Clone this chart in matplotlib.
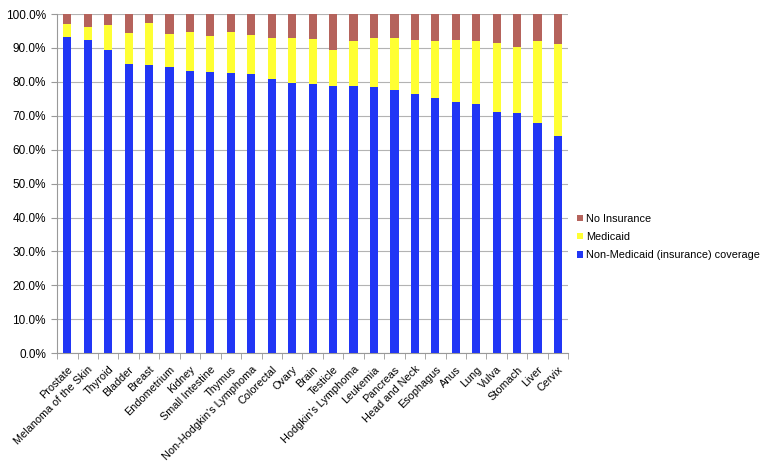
import numpy as np
import matplotlib.pyplot as plt
from matplotlib.ticker import FuncFormatter

plt.rcParams['font.family'] = ['Liberation Sans', 'DejaVu Sans']

cancers = ["Prostate", "Melanoma of the Skin", "Thyroid", "Bladder", "Breast",
           "Endometrium", "Kidney", "Small Intestine", "Thymus",
           "Non-Hodgkin's Lymphoma", "Colorectal", "Ovary", "Brain", "Testicle",
           "Hodgkin's Lymphoma", "Leukemia", "Pancreas", "Head and Neck",
           "Esophagus", "Anus", "Lung", "Vulva", "Stomach", "Liver", "Cervix"]

# percent of patients
non_medicaid = [93.3, 92.4, 89.5, 85.3, 85.0, 84.3, 83.3, 82.9, 82.6, 82.3, 80.8,
                79.7, 79.4, 78.9, 78.8, 78.5, 77.7, 76.3, 75.3, 74.2, 73.5, 71.2,
                70.8, 67.9, 64.0]
medicaid_top = [97.2, 96.3, 96.9, 94.4, 97.4, 94.2, 94.8, 93.5, 94.7, 93.7, 92.9,
                92.8, 92.6, 89.4, 92.2, 93.0, 92.9, 92.3, 92.2, 92.4, 92.1, 91.4,
                90.3, 92.1, 91.2]

non_medicaid = np.array(non_medicaid)
medicaid = np.array(medicaid_top) - non_medicaid
no_insurance = 100 - np.array(medicaid_top)

blue = '#2136f5'
yellow = '#ffff33'
brown = '#b5635c'

fig = plt.figure(figsize=(7.71, 4.69), dpi=100)
ax = fig.add_axes([0.074, 0.247, 0.663, 0.723])

x = np.arange(len(cancers))
w = 0.4
b1 = ax.bar(x, non_medicaid, w, color=blue, label='Non-Medicaid (insurance) coverage', zorder=3)
b2 = ax.bar(x, medicaid, w, bottom=non_medicaid, color=yellow, label='Medicaid', zorder=3)
b3 = ax.bar(x, no_insurance, w, bottom=non_medicaid + medicaid, color=brown,
            label='No Insurance', zorder=3)

ax.set_xlim(-0.5, len(cancers) - 0.5)
ax.set_ylim(0, 100)
ax.set_yticks(np.arange(0, 101, 10))
ax.yaxis.set_major_formatter(FuncFormatter(lambda v, p: f'{v:.1f}%'))
ax.yaxis.grid(True, color='#b3b3b3', linewidth=0.8, zorder=0)

ax.set_xticks(x)
ax.set_xticklabels(cancers, rotation=45, ha='right', rotation_mode='anchor', fontsize=7.8)
ax.set_xticks(np.arange(-0.5, len(cancers), 1), minor=True)
ax.tick_params(axis='x', which='major', length=0, pad=8)
ax.tick_params(axis='x', which='minor', length=4, color='#999999')
ax.tick_params(axis='y', length=4, color='#999999', labelsize=8.5, pad=4)

for s in ['top', 'right']:
    ax.spines[s].set_visible(False)
for s in ['left', 'bottom']:
    ax.spines[s].set_color('#999999')

ax.legend(handles=[b3, b2, b1], loc='center left', bbox_to_anchor=(1.018, 0.342),
          frameon=False, fontsize=7.8, handlelength=0.5, handleheight=0.5,
          handletextpad=0.3, labelspacing=0.75, borderpad=0, borderaxespad=0)

fig.savefig('out.png', dpi=100)
